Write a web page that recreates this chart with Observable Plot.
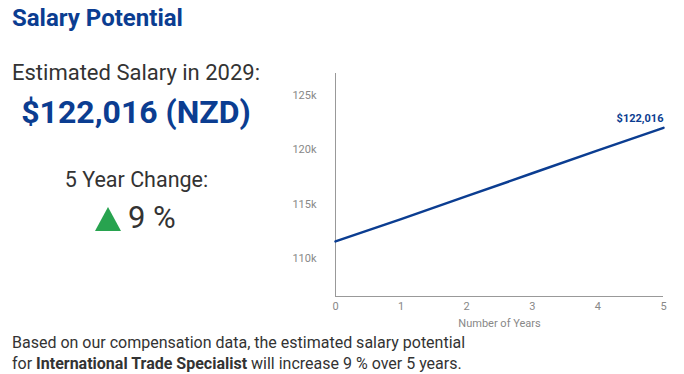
<!DOCTYPE html>
<html>
<head>
<meta charset="utf-8">
<script src="https://cdn.jsdelivr.net/npm/d3@7"></script>
<script src="https://cdn.jsdelivr.net/npm/@observablehq/plot@0.6"></script>
<style>
  html, body { margin: 0; padding: 0; background: #fff; width: 684px; height: 374px; overflow: hidden; font-family: Roboto, "Noto Sans", sans-serif; }
  .abs { position: absolute; white-space: nowrap; line-height: 1; }
  #title { left: 12px; top: 6px; font-size: 24px; font-weight: 700; color: #0b3d91; }
  #est { left: 12px; top: 61.5px; font-size: 22px; color: #333; }
  #amount { left: 0; width: 272px; text-align: center; top: 95.5px; font-size: 32px; font-weight: 700; color: #0b3d91; }
  #chg { left: 0; width: 273px; text-align: center; top: 169px; font-size: 21.5px; color: #333; }
  #pct { left: 128px; top: 202px; font-size: 31px; color: #333; }
  #tri { left: 95px; top: 207px; }
  #foot { left: 12px; top: 332px; font-size: 16px; color: #333; line-height: 21px; }
  #chart { left: 280px; top: 60px; }
</style>
</head>
<body>
<div class="abs" id="title">Salary Potential</div>
<div class="abs" id="est">Estimated Salary in 2029:</div>
<div class="abs" id="amount">$122,016 (NZD)</div>
<div class="abs" id="chg">5 Year Change:</div>
<svg class="abs" id="tri" width="26" height="24" viewBox="0 0 26 24"><polygon points="13,0 26,24 0,24" fill="#28a34f"/></svg>
<div class="abs" id="pct">9 %</div>
<div class="abs" id="foot">Based on our compensation data, the estimated salary potential<br>for <b>International Trade Specialist</b> will increase 9 % over 5 years.</div>
<div class="abs" id="chart"></div>
<script>
const years = [0, 1, 2, 3, 4, 5];
const salaries = [111600, 113650, 115750, 117850, 119950, 122016];
const yTicks = [110000, 115000, 120000, 125000];
const xTicks = [0, 1, 2, 3, 4, 5];

const data = years.map((y, i) => ({year: y, salary: salaries[i]}));
const last = [data[data.length - 1]];

const chart = Plot.plot({
  width: 400,
  height: 270,
  marginLeft: 55,
  marginRight: 17,
  marginTop: 13,
  marginBottom: 34,
  style: {fontFamily: "Roboto, sans-serif", fontSize: "11px", color: "#888", background: "transparent"},
  x: {domain: [0, 5], ticks: xTicks, tickFormat: d => String(d), tickSize: 0, tickPadding: 6, label: "Number of Years", labelAnchor: "center", labelArrow: "none", labelOffset: 30},
  y: {domain: [106550, 127000], ticks: yTicks, tickSize: 0, tickPadding: 19, tickFormat: d => d / 1000 + "k", label: null},
  marks: [
    Plot.ruleX([0], {stroke: "#999", strokeWidth: 1}),
    Plot.ruleY([106550], {stroke: "#999", strokeWidth: 1}),
    Plot.line(data, {x: "year", y: "salary", stroke: "#0b3d91", strokeWidth: 2.5}),
    Plot.text(last, {x: "year", y: "salary", text: d => "$" + d3.format(",")(d.salary), textAnchor: "end", dy: -9, fill: "#0b3d91", fontWeight: "bold", fontSize: 11})
  ]
});
document.getElementById("chart").appendChild(chart);
</script>
</body>
</html>
